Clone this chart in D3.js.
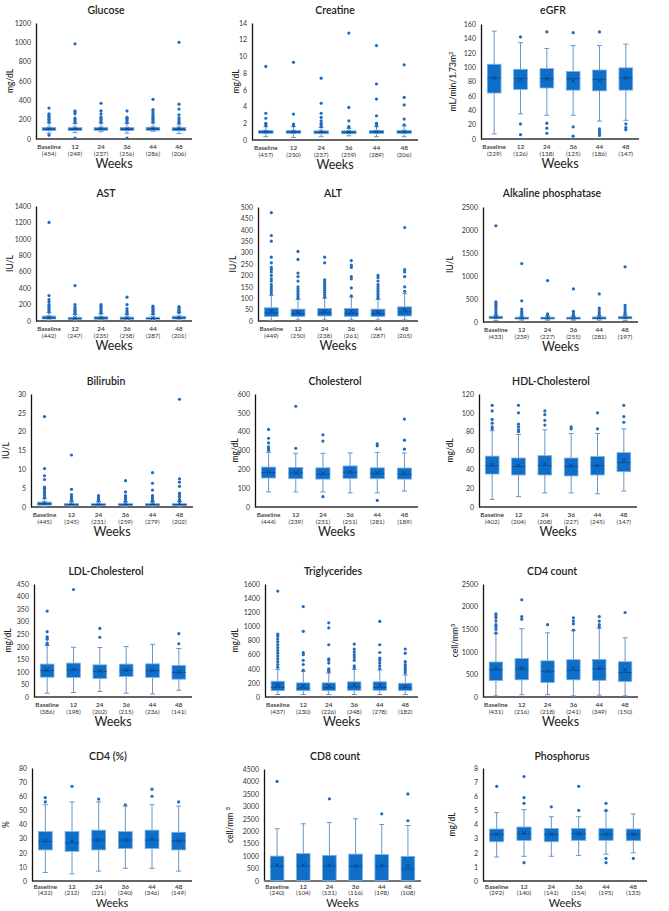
<!DOCTYPE html>
<html><head><meta charset="utf-8">
<script src="https://cdn.jsdelivr.net/npm/d3@7"></script>
<style>
body{margin:0;background:#fff;}
svg{display:block;font-family:Lato,"Open Sans",sans-serif;}
</style></head><body>
<svg id="c" width="669" height="911"></svg>
<script>
// ---------- DATA ----------
const categories = ["Baseline","12","24","36","44","48"];
const panelTitles = ["Glucose","Creatine","eGFR","AST","ALT","Alkaline phosphatase","Bilirubin","Cholesterol","HDL-Cholesterol","LDL-Cholesterol","Triglycerides","CD4 count","CD4 (%)","CD8 count","Phosphorus"];
const unitLabels = [["mg/dL",""],["mg/dL",""],["mL/min/1.73m","2"],["IU/L",""],["IU/L",""],["IU/L",""],["IU/L",""],["mg/dL",""],["mg/dL",""],["mg/dL",""],["mg/dL",""],["cell/mm","3"],["%",""],["cell/mm ","3"],["mg/dL",""]];
const yMax  = [1200,14,160,1400,500,2500,30,600,120,450,1600,2500,80,4500,8];
const yStep = [200,2,20,200,50,500,5,100,20,50,200,500,10,500,1];
const nCounts = [
 [454,249,237,256,286,206],[457,250,237,259,289,206],[229,126,138,125,186,147],
 [442,247,235,258,287,201],[449,250,238,261,287,205],[433,239,227,255,281,197],
 [445,245,231,259,279,202],[444,239,231,251,281,189],[402,204,208,227,245,147],
 [386,198,202,215,236,141],[437,230,226,248,278,182],[431,216,218,241,349,150],
 [432,212,221,240,346,149],[240,104,131,116,198,108],[292,140,141,154,195,133]];
const whiskerLow = [
 [60,65,75,60,80,55],[0.4,0.3,0.4,0.5,0.4,0.4],[7,35,33,33,25,26],
 [10,8,10,8,8,10],[3,5,5,5,5,5],[30,25,25,25,25,30],
 [0.1,0.1,0.1,0.1,0.1,0.1],[80,80,80,75,75,85],[8,11,15,15,14,17],
 [15,18,22,15,12,27],[35,35,35,35,35,35],[25,50,50,25,40,25],
 [6,5,7,9,9,7],[0,0,0,0,0,0],[1.7,1.75,1.75,1.8,1.9,2.0]];
const quartile1 = [
 [88,88,90,88,90,85],[0.8,0.8,0.75,0.75,0.8,0.8],[64,69,71,68,67,68],
 [25,20,22,20,22,25],[20,20,22,20,20,22],[75,65,65,65,65,70],
 [0.5,0.4,0.4,0.4,0.4,0.4],[154,150,148,152,150,148],[35,34,34,33,34,37.5],
 [79,78,74,82,78,71],[90,90,90,95,95,90],[365,380,320,380,370,345],
 [22,21,22,23,23,22],[20,20,20,20,20,20],[2.78,2.87,2.78,2.88,2.88,2.85]];
const medians = [
 [100,100,100,100,102,98],[0.95,0.95,0.9,0.9,0.95,0.95],[85,84,84,84,83,85],
 [35,28,32,30,30,35],[35,32,35,33,32,40],[95,80,80,80,82,90],
 [0.8,0.6,0.6,0.6,0.6,0.6],[183,180,175,185,178,175],[44,43,44,43,44,47],
 [105,108,102,106,105,98],[135,125,130,140,135,130],[600,620,560,590,620,540],
 [28,27,29,29,29,28.5],[600,600,600,600,600,480],[3.3,3.35,3.3,3.35,3.3,3.3]];
const quartile3 = [
 [120,118,120,118,122,118],[1.15,1.15,1.1,1.1,1.15,1.15],[104,97,98,94,96,99],
 [60,45,52,48,45,58],[58,52,55,55,52,62],[125,105,105,105,110,120],
 [1.3,0.9,0.9,0.9,0.9,0.9],[212,210,208,218,208,207],[54,52,54.5,52,53.5,57.7],
 [131,135,128,131,132,126],[223,200,200,215,215,195],[774,850,800,825,830,780],
 [35,35,36,35,36,34.5],[1000,1100,1030,1080,1060,990],[3.68,3.82,3.72,3.72,3.72,3.68]];
const whiskerHigh = [
 [165,160,165,160,165,155],[1.6,1.6,1.5,1.4,1.6,1.7],[150,134,126,130,130,132],
 [100,80,90,80,80,100],[112,95,100,105,95,120],[140,125,130,125,130,150],
 [2.2,1.5,1.5,1.4,1.4,1.5],[290,285,285,287,290,287],[81,77,82,78,78,83],
 [205,198,197,201,210,193],[390,360,340,390,380,310],[1400,1510,1420,1470,1520,1310],
 [54,56,56,53,54,53],[2100,2300,2350,2500,2270,2230],[4.85,5.05,4.55,4.55,4.95,4.75]];
const means = [
 [108,110,110,105,110,112],[1.0,1.0,1.0,0.95,1.0,1.0],[85,83,84,81,81,85],
 [45,35,40,38,36,45],[45,40,42,42,40,48],[105,90,88,88,92,100],
 [1.1,0.8,0.7,0.8,0.8,0.9],[185,182,178,186,181,179],[45,44,46,44,44,49],
 [107,109,104,107,106,100],[170,160,160,170,170,150],[625,640,580,630,640,600],
 [28.5,28.5,29,29,29.5,28.5],[640,650,640,620,630,600],[3.3,3.4,3.3,3.35,3.3,3.3]];
const outliers = [
 [[40,175,190,205,220,235,250,260,320],[10,170,185,200,215,260,280,290,985],[170,185,200,215,230,260,290,370],[10,170,185,200,215,225,290],[175,190,205,220,235,250,270,290,305,410],[165,180,200,220,250,310,360,1000]],
 [[1.7,1.9,2.0,2.6,3.2,8.8],[1.7,1.9,3.1,9.3],[1.6,1.8,2.0,2.3,2.7,3.2,4.4,7.4],[1.5,1.6,2.3,3.9,12.8],[1.7,1.9,2.0,2.9,4.9,6.7,11.3],[1.8,2.5,4.2,5.1,9.0]],
 [[],[6,21,142],[8,15,22,149],[4,17,148],[5,8,11,14,149],[13,16,21]],
 [[110,125,140,160,180,200,230,260,310,1200],[85,100,115,130,150,170,200,430],[95,110,125,140,160,180,200],[85,100,120,150,200,290],[85,100,115,130,150,165,180],[105,120,135,150,165,175]],
 [[120,130,140,150,160,175,185,200,215,225,235,255,280,350,375,475],[100,110,120,130,140,150,175,195,210,270,305],[105,115,125,135,145,155,165,175,180,255,280],[110,145,185,195,235,245,265],[100,110,120,130,140,150,160,175,190,200],[130,150,195,215,225,410]],
 [[170,220,270,320,360,400,440,2090],[150,190,230,280,460,1270],[150,175,900],[140,180,230,720],[150,200,250,300,610],[170,210,260,310,360,1200]],
 [[2.5,3.0,3.5,4.0,4.5,5.0,5.3,7.3,8.3,10.2,24],[1.8,2.3,2.8,3.3,4.7,13.8],[1.6,2.0,2.5,3.0],[1.6,2.0,2.5,3.0,4.0,7.0],[1.6,2.0,2.5,3.0,4.5,6.3,9.1],[1.6,2.0,2.7,3.2,3.7,5.5,6.6,7.5,28.6]],
 [[300,310,320,340,365,412],[312,535],[55,350,383],[],[35,325,335],[307,355,467]],
 [[83,85,89,93,102,108],[80,82,85,88,100,108],[87,92,98,102],[83,85],[83,100],[90,96,108]],
 [[210,215,230,235,240,260,342],[428],[238,273],[],[],[212,252]],
 [[420,460,500,540,580,620,660,700,740,780,820,860,890,1500],[380,460,520,600,630,930,1280],[360,380,400,480,520,540,740,980,1050],[410,440,520,560,600,640,680,750],[400,440,480,520,550,630,740,1070],[340,370,400,430,460,500,620,680]],
 [[1420,1500,1560,1600,1680,1750,1800,1840],[1720,1780,2150],[1600],[1480,1620,1680,1750],[1550,1600,1680,1780],[1870]],
 [[56,59],[67],[58],[54],[60,65],[56]],
 [[4000],[],[3300],[],[2700],[2420,3500]],
 [[6.7],[1.3,5.5,5.9,7.4],[5.25],[5.0,6.7],[1.3,1.6,5.0,5.5],[1.6]]
];

// ---------- LAYOUT ----------
// [axisLeft, axisRight, yTop, yZero, titleX, unitLabelX]
const layout = [
 [36,192,23,139,106,10],[252,418,23,140,335,236],[481,639,24,139,553,453],
 [36,192,206,321,106,10],[258,418,207,321,333,233],[483,638,207,322,552,450],
 [31,193,394,507,106,6],[255,418,394,507,335,235],[479,637,394,507,551,450],
 [34,192,584,697,106,8],[265,418,584,697,333,235],[483,638,584,697,552,455],
 [32,192,768,881,108,6],[264,421,769,881,335,230],[483,647,768,881,562,452]];
const titleY = [14,197,385,575,760];
const weeksDy = [29,29,29,29,26.3];
const weeksSize = [12.5,12.5,12.5,12.5,11];
const catDy = [[10,17],[10,17],[10,17],[10,17],[7.5,13.5]];

const svg = d3.select("#c");
const C = {fill:"#0f6fc8", edge:"#7fb0e0", whisk:"#6b95c8", dot:"#1f6cbf", mean:"#0b3b73", med:"#0a4b94"};

panelTitles.forEach((title,p)=>{
  const [x0,x1,yT,y0,tx,lx] = layout[p];
  const row = Math.floor(p/3);
  const g = svg.append("g");
  const x = d3.scaleBand().domain(categories).range([x0,x1]).padding(0);
  const y = d3.scaleLinear().domain([0,yMax[p]]).range([y0,yT]);
  const bw = x.bandwidth()*0.52;

  g.append("text").attr("x",tx).attr("y",titleY[row]).attr("text-anchor","middle")
   .attr("font-size",10.5).attr("font-weight",600).attr("fill","#222").text(title);

  const ya = d3.axisLeft(y).tickValues(d3.range(0,yMax[p]+yStep[p]/2,yStep[p]))
    .tickFormat(d=>String(d)).tickSize(0).tickPadding(5);
  const yg = g.append("g").attr("transform",`translate(${x0},0)`).call(ya);
  yg.select(".domain").attr("stroke","#111").attr("stroke-width",1.3);
  yg.selectAll("text").attr("font-size",7).attr("fill","#333").attr("font-family","Lato,sans-serif");

  g.append("line").attr("x1",x0).attr("x2",x1).attr("y1",y0).attr("y2",y0)
   .attr("stroke", p===13 ? "#777" : "#333").attr("stroke-width", p===13 ? 2.2 : 1.4);

  categories.forEach((c,i)=>{
    const cx = x(c)+x.bandwidth()/2;
    const t = g.append("text").attr("text-anchor","middle").attr("font-size",6.4)
      .attr("fill","#333").attr("font-weight",600);
    t.append("tspan").attr("x",cx).attr("y",y0+catDy[row][0]).text(c);
    t.append("tspan").attr("x",cx).attr("y",y0+catDy[row][1]).attr("font-weight",400).text("("+nCounts[p][i]+")");
  });

  g.append("text").attr("x",(x0+x1)/2).attr("y",y0+weeksDy[row]).attr("text-anchor","middle")
   .attr("font-size",weeksSize[row]).attr("fill","#222").text("Weeks");

  const ul = g.append("text").attr("transform",`translate(${lx+3},${(yT+y0)/2}) rotate(-90)`)
    .attr("text-anchor","middle").attr("font-size",8.5).attr("fill","#222").attr("font-weight",500);
  ul.append("tspan").text(unitLabels[p][0]);
  if(unitLabels[p][1]) ul.append("tspan").attr("dy",-3).attr("font-size",6).text(unitLabels[p][1]);

  categories.forEach((c,i)=>{
    const cx = x(c)+x.bandwidth()/2;
    const lo=whiskerLow[p][i], q1=quartile1[p][i], md=medians[p][i], q3=quartile3[p][i], hi=whiskerHigh[p][i], mn=means[p][i];
    g.append("line").attr("x1",cx).attr("x2",cx).attr("y1",y(hi)).attr("y2",y(q3)).attr("stroke",C.whisk).attr("stroke-width",1);
    g.append("line").attr("x1",cx).attr("x2",cx).attr("y1",y(q1)).attr("y2",y(lo)).attr("stroke",C.whisk).attr("stroke-width",1);
    [hi,lo].forEach(v=>g.append("line").attr("x1",cx-2.5).attr("x2",cx+2.5).attr("y1",y(v)).attr("y2",y(v)).attr("stroke",C.whisk).attr("stroke-width",1));
    g.append("rect").attr("x",cx-bw/2).attr("y",y(q3)).attr("width",bw).attr("height",Math.max(1.5,y(q1)-y(q3)))
      .attr("fill",C.fill).attr("stroke",C.edge).attr("stroke-width",0.8);
    g.append("line").attr("x1",cx-bw/2).attr("x2",cx+bw/2).attr("y1",y(md)).attr("y2",y(md)).attr("stroke",C.med).attr("stroke-width",0.8);
    const my=y(mn);
    g.append("path").attr("d",`M${cx-2},${my-2}L${cx+2},${my+2}M${cx-2},${my+2}L${cx+2},${my-2}`)
      .attr("stroke",C.mean).attr("stroke-width",0.8);
    g.selectAll(null).data(outliers[p][i]).enter().append("circle")
      .attr("cx",cx).attr("cy",d=>y(d)).attr("r",1.6).attr("fill",C.dot);
  });
});
</script>
</body></html>
